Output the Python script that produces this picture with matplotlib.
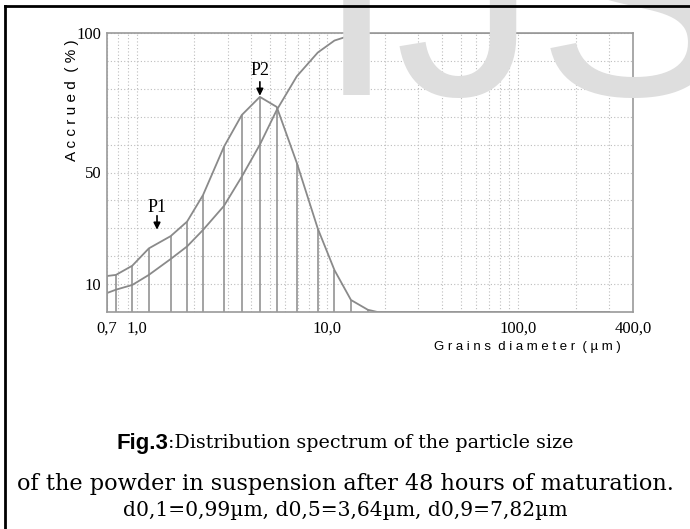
import matplotlib
matplotlib.use("Agg")
import matplotlib.pyplot as plt
from matplotlib.lines import Line2D
from matplotlib.ticker import FixedLocator, LogLocator, NullFormatter

# Grains diameter (um) and percentages
freq_x = [0.70, 0.78, 0.95, 1.16, 1.51, 1.84, 2.23, 2.87, 3.56, 4.43, 5.43,
          6.92, 8.91, 10.9, 13.3, 16.3, 18.3, 300]
freq_y = [12.9, 13.3, 16.6, 22.8, 27.2, 32.4, 41.9, 59.2, 70.6, 77.1, 73.5,
          53.4, 29.9, 15.0, 4.3, 0.8, 0.0, 0.0]
bar_x = freq_x[:16]
bar_y = freq_y[:16]

cum_x = [0.70, 0.78, 0.95, 1.16, 1.51, 1.84, 2.23, 2.87, 3.56, 4.43, 5.43,
         6.92, 8.91, 10.9, 13.3, 16.3, 300]
cum_y = [6.8, 8.0, 9.7, 13.3, 19.0, 23.5, 29.4, 38.0, 48.5, 60.0, 72.4,
         84.5, 93.0, 97.3, 99.2, 100.0, 100.0]

x_ticks = [0.7, 1.0, 10.0, 100.0, 400.0]
x_tick_labels = ["0,7", "1,0", "10,0", "100,0", "400,0"]
y_ticks = [10, 50, 100]

peaks = {"P1": (1.28, 29.5, 37.5), "P2": (4.43, 77.5, 86.5)}

GRAY = "#8a8a8a"
SERIF = "Liberation Serif"
CAP_SERIF = "DejaVu Serif"
SANS = "Liberation Sans"

fig = plt.figure(figsize=(6.9, 5.29), dpi=100)

# watermark behind everything
fig.text(317 / 690, 1 - 95 / 529, "IJS", fontsize=205, family=SANS,
         color="#dedede", ha="left", va="baseline", zorder=0)

# page border (top and left only)
fig.add_artist(Line2D([5 / 690, 1], [1 - 6 / 529] * 2, color="black", lw=2))
fig.add_artist(Line2D([5 / 690] * 2, [0, 1 - 6 / 529], color="black", lw=2))

ax = fig.add_axes([107 / 690, 1 - 312 / 529, (633 - 107) / 690, (312 - 33) / 529])
ax.set_facecolor("none")
ax.set_xscale("log")
ax.set_xlim(0.7, 400)
ax.set_ylim(0, 100)

ax.xaxis.set_major_locator(FixedLocator(x_ticks))
ax.set_xticklabels(x_tick_labels)
ax.xaxis.set_minor_locator(LogLocator(base=10, subs=range(2, 10), numticks=20))
ax.xaxis.set_minor_formatter(NullFormatter())
ax.set_yticks(y_ticks)
ax.set_yticks(range(0, 101, 10), minor=True)
ax.tick_params(which="both", length=0)
ax.tick_params(axis="x", pad=6)
ax.tick_params(axis="y", pad=4)
for lab in ax.get_xticklabels() + ax.get_yticklabels():
    lab.set_family(SERIF)
    lab.set_fontsize(12)

ax.grid(True, which="both", color="#bdbdbd", linestyle=(0, (1, 2)), lw=0.8)
for s in ax.spines.values():
    s.set_color("#9a9a9a")
    s.set_linewidth(1.2)

ax.vlines(bar_x, 0, bar_y, color=GRAY, lw=1.1)
ax.plot(freq_x, freq_y, color=GRAY, lw=1.3)
ax.plot(cum_x, cum_y, color=GRAY, lw=1.3)

for name, (px, tip, ty) in peaks.items():
    ax.annotate("", xy=(px, tip), xytext=(px, tip + 5),
                arrowprops=dict(arrowstyle="-|>", color="black", lw=1.2,
                                mutation_scale=10, shrinkA=0, shrinkB=0))
    ax.text(px, ty, name, family=SERIF, fontsize=13, ha="center", va="center")

fig.text(72 / 690, 1 - 100 / 529, "A c c r u e d  ( % )", rotation=90,
         family=SANS, fontsize=11, ha="center", va="center")
fig.text(527 / 690, 1 - 347 / 529, "G r a i n s  d i a m e t e r  ( µ m )",
         family=SANS, fontsize=9.5, ha="center", va="center")

# caption: bold sans "Fig.3" followed by serif text, centred together
y1 = 1 - 443 / 529
t1 = fig.text(0, y1, "Fig.3", family=SANS, fontweight="bold",
              fontsize=16, ha="left", va="center")
t2 = fig.text(0, y1, ":Distribution spectrum of the particle size",
              family=CAP_SERIF, fontsize=13.7, ha="left", va="center")
fig.canvas.draw()
w1 = t1.get_window_extent().width / 690
w2 = t2.get_window_extent().width / 690
left = 0.5 - (w1 + w2) / 2
t1.set_x(left)
t2.set_x(left + w1)

fig.text(0.5, 1 - 484 / 529,
         "of the powder in suspension after 48 hours of maturation.",
         family=CAP_SERIF, fontsize=16.1, ha="center", va="center")
fig.text(0.5, 1 - 510 / 529, "d0,1=0,99µm, d0,5=3,64µm, d0,9=7,82µm",
         family=CAP_SERIF, fontsize=14.6, ha="center", va="center")

fig.savefig("out.png", dpi=100)
